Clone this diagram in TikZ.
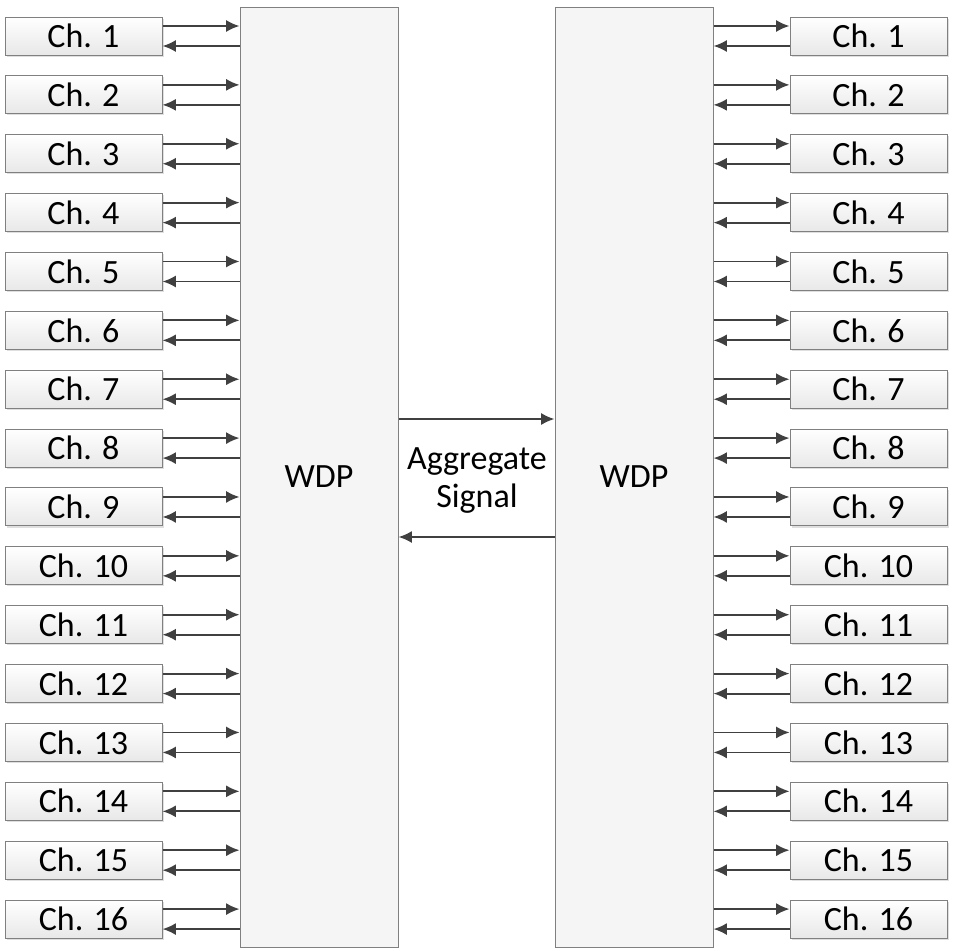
\documentclass[tikz,border=0pt]{standalone}
\usepackage{fontspec}
\setmainfont{Carlito}
\usetikzlibrary{arrows.meta,shadows}

\tikzset{every picture/.style={line width=0.75pt}}
\tikzset{
  chbox/.style={draw={rgb,255:red,128;green,128;blue,128}, top color=white, bottom color={rgb,255:red,232;green,232;blue,232},
    minimum width=117.75pt, minimum height=28.5pt, inner sep=0pt, font=\fontsize{25.5}{28.5}\selectfont,
    drop shadow={shadow xshift=1.2pt, shadow yshift=-1.2pt, opacity=0.25, fill=gray}},
  wdpbox/.style={draw={rgb,255:red,128;green,128;blue,128}, fill={rgb,255:red,245;green,245;blue,245},
    minimum width=118.5pt, minimum height=705pt, inner sep=0pt, font=\fontsize{25.5}{28.5}\selectfont},
  sig/.style={draw={rgb,255:red,64;green,64;blue,64}, line width=1.4pt, -{Latex[length=10pt,width=9pt]}}
}

\begin{document}
\begin{tikzpicture}[x=0.75pt,y=0.75pt,yscale=-1,xscale=1]
	\useasboundingbox (0,0) rectangle (955,950);

	%Shape: Rectangle [WDP, left]
	\node[wdpbox] (wdpL) at (319,477) {WDP};
	%Shape: Rectangle [WDP, right]
	\node[wdpbox] (wdpR) at (634,477) {WDP};

	% Text Node
	\node[font=\fontsize{25.5}{28.5}\selectfont, align=center] (agg) at (477,481) {Aggregate\\Signal};

	%Straight Lines [aggregate]
	\draw[sig] (wdpL.east |- 0,419) -- (wdpR.west |- 0,419);
	\draw[sig] (wdpR.west |- 0,537) -- (wdpL.east |- 0,537);

	\foreach \i in {1,...,16}{
		%Shape: Rectangle [channels]
		\node[chbox] (chL\i) at (83.5,{36+58.87*(\i-1)}) {Ch. \i};
		\node[chbox] (chR\i) at (868.5,{36+58.87*(\i-1)}) {Ch. \i};
		%Straight Lines [channel to WDP]
		\draw[sig] ([yshift=-7.5pt]chL\i.east) -- ([yshift=-7.5pt]chL\i.east -| wdpL.west);
		\draw[sig] ([yshift=7.5pt]chL\i.east -| wdpL.west) -- ([yshift=7.5pt]chL\i.east);
		\draw[sig] ([yshift=-7.5pt]chR\i.west -| wdpR.east) -- ([yshift=-7.5pt]chR\i.west);
		\draw[sig] ([yshift=7.5pt]chR\i.west) -- ([yshift=7.5pt]chR\i.west -| wdpR.east);
	}

\end{tikzpicture}
\end{document}
